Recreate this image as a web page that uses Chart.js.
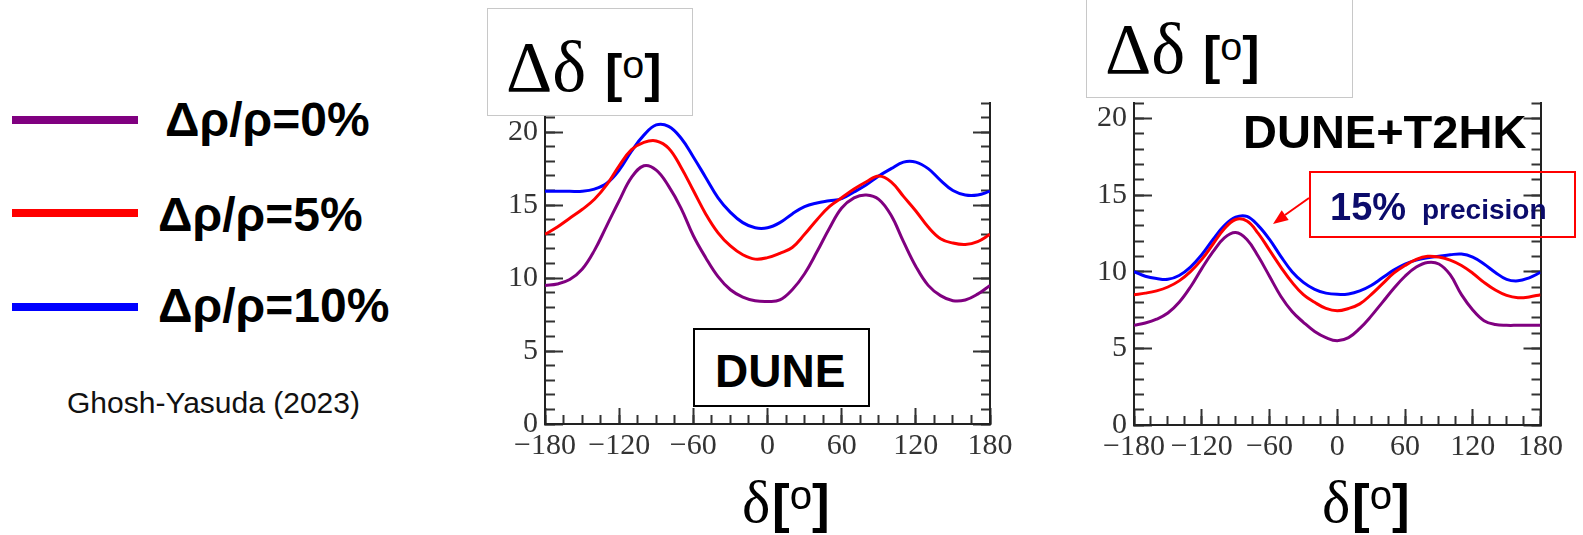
<!DOCTYPE html>
<html>
<head>
<meta charset="utf-8">
<script src="https://cdn.jsdelivr.net/npm/chart.js@4.4.1/dist/chart.umd.min.js"></script>
<style>
  body { margin: 0; width: 1583px; height: 535px; background: #fff; position: relative; overflow: hidden;
         font-family: "Liberation Sans", Arial, sans-serif; }
  .abs { position: absolute; white-space: nowrap; line-height: 1; }
  canvas { position: absolute; }
  .leg-line { position: absolute; left: 12px; width: 126px; height: 8px; }
  .leg-text { font-weight: bold; font-size: 48px; color: #000; }
  .box { position: absolute; box-sizing: border-box; }
  .serif { font-family: "Liberation Serif", "Times New Roman", serif; }
  .deg { font-size: 0.76em; font-weight: normal; line-height: 0; vertical-align: 0.33em; }
</style>
</head>
<body>

<canvas id="dune" width="600" height="420" style="left:440px; top:60px;"></canvas>
<canvas id="t2hk" width="533" height="420" style="left:1050px; top:60px;"></canvas>

<!-- legend -->
<div class="leg-line" style="top:116px; background:#800080;"></div>
<div class="leg-line" style="top:209px; background:#ff0000;"></div>
<div class="leg-line" style="top:303px; background:#0000ff;"></div>
<div class="abs leg-text" style="left:165px; top:96px;">Δρ/ρ=0%</div>
<div class="abs leg-text" style="left:158px; top:191px;">Δρ/ρ=5%</div>
<div class="abs leg-text" style="left:158px; top:282px;">Δρ/ρ=10%</div>
<div class="abs" style="left:67px; top:388px; font-size:30px; color:#111;">Ghosh-Yasuda (2023)</div>

<!-- y titles -->
<div class="box" style="left:487px; top:8px; width:206px; height:108px; border:1px solid #c8c8c8; background:#fff;"></div>
<div class="abs serif" style="left:506px; top:31px; font-size:72px;">Δδ</div>
<div class="abs" style="left:605px; top:47px; font-size:52px; font-weight:bold;">[<span class="deg">o</span>]</div>

<div class="box" style="left:1086px; top:-2px; width:267px; height:100px; border:1px solid #c8c8c8; background:#fff;"></div>
<div class="abs serif" style="left:1105px; top:13px; font-size:72px;">Δδ</div>
<div class="abs" style="left:1203px; top:29px; font-size:52px; font-weight:bold;">[<span class="deg">o</span>]</div>

<!-- x titles -->
<div class="abs serif" style="left:742px; top:472px; font-size:60px;">δ</div>
<div class="abs" style="left:772px; top:477px; font-size:53px; font-weight:bold;">[<span class="deg">o</span>]</div>
<div class="abs serif" style="left:1322px; top:472px; font-size:60px;">δ</div>
<div class="abs" style="left:1352px; top:477px; font-size:53px; font-weight:bold;">[<span class="deg">o</span>]</div>

<!-- annotations -->
<div class="box" style="left:693px; top:328px; width:177px; height:79px; border:2px solid #000; background:#fff;"></div>
<div class="abs" style="left:715px; top:348px; font-size:46px; font-weight:bold;">DUNE</div>
<div class="abs" style="left:1243px; top:108px; font-size:47px; font-weight:bold;">DUNE+T2HK</div>
<div class="box" style="left:1309px; top:171px; width:267px; height:67px; border:2px solid #ff0000;"></div>
<div class="abs" style="left:1330px; top:188px; font-size:38px; font-weight:bold; color:#0b0b6b;">15%</div>
<div class="abs" style="left:1422px; top:196px; font-size:28px; font-weight:bold; color:#0b0b6b;">precision</div>
<svg width="1583" height="535" style="position:absolute; left:0; top:0; pointer-events:none;">
  <line x1="1309" y1="198" x2="1285" y2="215" stroke="#ff0000" stroke-width="2"/>
  <polygon points="1273,224 1288.7,220.1 1281.7,210.3" fill="#ff0000"/>
</svg>

<script>
// δ values (degrees) at which the curves were read
const deltaCP = [-180, -170, -160, -150, -140, -130, -120, -110, -100, -90, -80, -70, -60, -50, -40, -30, -20, -10,
                 0, 10, 20, 30, 40, 50, 60, 70, 80, 90, 100, 110, 120, 130, 140, 150, 160, 170, 180];

// DUNE: Δδ [°]
const dune0 = [9.5, 9.6, 9.9, 10.6, 11.9, 13.6, 15.3, 16.9, 17.7, 17.4, 16.3, 14.8, 12.9, 11.4, 10.1, 9.2, 8.7, 8.45,
               8.4, 8.5, 9.2, 10.3, 11.8, 13.4, 14.8, 15.5, 15.7, 15.4, 14.3, 12.5, 10.8, 9.5, 8.8, 8.45, 8.5, 8.9, 9.5];
const dune5 = [13.0, 13.5, 14.1, 14.7, 15.4, 16.4, 17.7, 18.8, 19.3, 19.4, 18.9, 17.6, 16.0, 14.4, 13.1, 12.2, 11.6, 11.3,
               11.4, 11.7, 12.1, 13.0, 14.0, 14.9, 15.5, 16.1, 16.6, 17.0, 16.6, 15.6, 14.6, 13.5, 12.7, 12.4, 12.3, 12.5, 13.0];
const dune10 = [15.95, 15.95, 15.95, 15.95, 16.1, 16.5, 17.4, 18.7, 19.8, 20.5, 20.4, 19.6, 18.3, 16.9, 15.5, 14.5, 13.8, 13.45,
                13.45, 13.8, 14.4, 14.9, 15.15, 15.3, 15.45, 15.9, 16.4, 17.0, 17.5, 17.95, 17.95, 17.5, 16.7, 16.0, 15.7, 15.7, 15.95];

// DUNE+T2HK: Δδ [°]
const combo0 = [6.5, 6.65, 6.9, 7.3, 8.0, 9.0, 10.2, 11.3, 12.2, 12.55, 12.1, 11.0, 9.7, 8.4, 7.4, 6.7, 6.1, 5.7,
                5.5, 5.7, 6.3, 7.1, 8.0, 8.9, 9.7, 10.3, 10.6, 10.5, 9.8, 8.5, 7.5, 6.8, 6.55, 6.5, 6.5, 6.5, 6.5];
const combo5 = [8.5, 8.6, 8.75, 9.0, 9.4, 10.0, 10.8, 11.8, 12.8, 13.4, 13.3, 12.5, 11.4, 10.3, 9.3, 8.5, 8.0, 7.6,
                7.45, 7.6, 7.9, 8.5, 9.2, 9.9, 10.4, 10.8, 11.0, 10.95, 10.75, 10.4, 9.9, 9.3, 8.8, 8.45, 8.3, 8.35, 8.5];
const combo10 = [10.0, 9.7, 9.55, 9.5, 9.75, 10.3, 11.1, 12.1, 13.0, 13.55, 13.6, 13.0, 12.1, 11.0, 10.0, 9.3, 8.85, 8.6,
                 8.52, 8.55, 8.75, 9.1, 9.6, 10.1, 10.5, 10.75, 10.9, 11.0, 11.1, 11.15, 10.95, 10.5, 9.95, 9.5, 9.4, 9.6, 9.95];

const seriesLabels = ["Δρ/ρ=0%", "Δρ/ρ=5%", "Δρ/ρ=10%"];
const seriesColors = ["#800080", "#ff0000", "#0000ff"];

const tickFont = { family: "Liberation Serif", size: 30 };
const tickColor = "#333";
const axisColor = "#222";

const minus = v => v < 0 ? "\u2212" + Math.abs(v) : String(v);

const makeScales = (yMax, leftWidth, bottomHeight) => ({
    x: {
        type: "linear", position: "bottom", min: -180, max: 180, weight: 0,
        border: { display: true, color: axisColor, width: 2 },
        grid: { drawOnChartArea: false, tickLength: -16, tickWidth: 2, tickColor: tickColor },
        ticks: { stepSize: 60, maxTicksLimit: 100, autoSkip: false, maxRotation: 0, padding: 20,
                 color: tickColor, font: tickFont, callback: minus },
        afterFit: s => { s.height = bottomHeight; }
    },
    xMinor: {
        type: "linear", position: "bottom", min: -180, max: 180, weight: -1,
        border: { display: false },
        grid: { drawOnChartArea: false, tickLength: -9, tickWidth: 2, tickColor: tickColor },
        ticks: { display: false, stepSize: 15, maxTicksLimit: 100 },
        afterFit: s => { s.height = 0; }
    },
    y: {
        type: "linear", position: "left", min: 0, max: yMax, weight: 0,
        border: { display: true, color: axisColor, width: 2 },
        grid: { drawOnChartArea: false, tickLength: -18, tickWidth: 2, tickColor: tickColor },
        ticks: { stepSize: 5, maxTicksLimit: 100, includeBounds: false, padding: 25,
                 color: tickColor, font: tickFont },
        afterFit: s => { s.width = leftWidth; }
    },
    yMinor: {
        type: "linear", position: "left", min: 0, max: yMax, weight: -1,
        border: { display: false },
        grid: { drawOnChartArea: false, tickLength: -10, tickWidth: 2, tickColor: tickColor },
        ticks: { display: false, stepSize: 1, maxTicksLimit: 100 },
        afterFit: s => { s.width = 0; }
    },
    yRight: {
        type: "linear", position: "right", min: 0, max: yMax, weight: 0,
        border: { display: true, color: axisColor, width: 2 },
        grid: { drawOnChartArea: false, tickLength: -17, tickWidth: 2, tickColor: tickColor },
        ticks: { display: false, stepSize: 5, maxTicksLimit: 100, includeBounds: false },
        afterFit: s => { s.width = 0; }
    },
    yRightMinor: {
        type: "linear", position: "right", min: 0, max: yMax, weight: -1,
        border: { display: false },
        grid: { drawOnChartArea: false, tickLength: -9, tickWidth: 2, tickColor: tickColor },
        ticks: { display: false, stepSize: 1, maxTicksLimit: 100 },
        afterFit: s => { s.width = 0; }
    }
});

const makeChart = (id, seriesList, yMax, padding, leftWidth, bottomHeight) => {
    const ctx = document.getElementById(id);
    return new Chart(ctx, {
        type: "line",
        data: {
            datasets: seriesList.map((values, i) => ({
                label: seriesLabels[i],
                data: deltaCP.map((d, j) => ({ x: d, y: values[j] })),
                borderColor: seriesColors[i],
                borderWidth: 3,
                pointRadius: 0,
                fill: false,
                tension: 0.4,
                xAxisID: "x",
                yAxisID: "y"
            }))
        },
        options: {
            responsive: false,
            animation: false,
            layout: { padding: padding },
            plugins: { legend: { display: false }, tooltip: { enabled: false } },
            scales: makeScales(yMax, leftWidth, bottomHeight)
        }
    });
};

makeChart("dune", [dune0, dune5, dune10], 22, { top: 32, right: 50, bottom: 0, left: 0 }, 105, 56);
makeChart("t2hk", [combo0, combo5, combo10], 21, { top: 36, right: 31, bottom: 0, left: 0 }, 84, 55);
</script>
</body>
</html>
